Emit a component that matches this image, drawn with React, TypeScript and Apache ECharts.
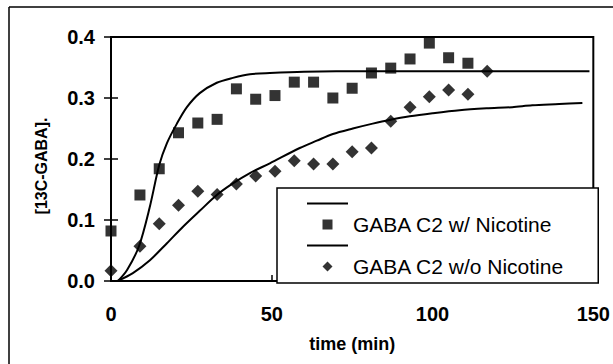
import React, { useEffect, useRef } from "react";
import * as echarts from "echarts";

// Measured points (time in min, [13C-GABA])
const timesWith = [0, 9, 15, 21, 27, 33, 39, 45, 51, 57, 63, 69, 75, 81, 87, 93, 99, 105, 111];
const valuesWith = [0.082, 0.141, 0.184, 0.243, 0.259, 0.265, 0.315, 0.298, 0.304, 0.326, 0.326, 0.3, 0.316, 0.341, 0.349, 0.364, 0.39, 0.366, 0.357];

const timesWithout = [0, 9, 15, 21, 27, 33, 39, 45, 51, 57, 63, 69, 75, 81, 87, 93, 99, 105, 111, 117];
const valuesWithout = [0.017, 0.057, 0.094, 0.124, 0.147, 0.142, 0.159, 0.172, 0.18, 0.197, 0.192, 0.192, 0.212, 0.218, 0.262, 0.285, 0.302, 0.313, 0.306, 0.344];

// Fitted curves
const fitWithT = [2.2, 5, 8.7, 12, 15, 17.4, 20.5, 23.6, 27.6, 32.9, 37.9, 43.2, 49.4, 60, 80, 110, 148.8];
const fitWithY = [0, 0.018, 0.057, 0.12, 0.19, 0.226, 0.258, 0.285, 0.308, 0.325, 0.333, 0.339, 0.341, 0.343, 0.344, 0.344, 0.344];

const fitWithoutT = [2, 6.8, 12.1, 17.4, 22.4, 27.6, 32.9, 37.9, 43.2, 49.4, 58.7, 64, 69, 75.2, 81.4, 86.6, 92.9, 100, 108.4, 116.8, 124.8, 131, 139.4, 146.6];
const fitWithoutY = [0, 0.013, 0.034, 0.062, 0.089, 0.115, 0.141, 0.16, 0.177, 0.193, 0.218, 0.23, 0.241, 0.25, 0.258, 0.264, 0.27, 0.275, 0.28, 0.283, 0.285, 0.288, 0.29, 0.292];

const xTicks = { min: 0, max: 150, interval: 50 };
const yTicks = { min: 0, max: 0.4, interval: 0.1 };

const seriesNames = ["GABA C2 w/ Nicotine", "GABA C2 w/o Nicotine"];
const xTitle = "time (min)";
const yTitle = "[13C-GABA].";

const FONT = "'Liberation Sans', Arial, sans-serif";

const LINE_ICON = "path://M0,0H40V2H0Z";
const SQUARE_ICON = "path://M0,0H1V1H0Z";
const DIAMOND_ICON = "path://M1,0L2,1L1,2L0,1Z";

const zip = (a: number[], b: number[]) => a.map((v, i) => [v, b[i]]);

export default function App() {
  const ref = useRef<HTMLDivElement>(null);
  useEffect(() => {
    if (!ref.current) return;
    const chart = echarts.init(ref.current, undefined, { renderer: "svg" });
    const labelStyle = { fontSize: 20, fontWeight: "bold" as const, color: "#000", fontFamily: FONT };
    const gridPos = { left: 111, top: 37, right: 19, bottom: 83 };
    chart.setOption({
      animation: false,
      backgroundColor: "#fff",
      grid: [
        { ...gridPos, show: true, borderColor: "#000", borderWidth: 2, backgroundColor: "transparent" },
        { ...gridPos, show: false },
      ],
      graphic: [
        { type: "line", shape: { x1: 9, y1: 7, x2: 640, y2: 7 }, style: { stroke: "#000", lineWidth: 1.5 }, silent: true, z: -10 },
        { type: "line", shape: { x1: 9, y1: 7, x2: 9, y2: 400 }, style: { stroke: "#000", lineWidth: 1.5 }, silent: true, z: -10 },
      ],
      xAxis: [
        {
          type: "value",
          gridIndex: 0,
          ...xTicks,
          axisLine: { lineStyle: { color: "#000", width: 2 } },
          axisTick: { inside: true, length: 6, lineStyle: { color: "#000", width: 1.5 } },
          splitLine: { show: false },
          axisLabel: { ...labelStyle, margin: 23 },
          name: xTitle,
          nameLocation: "middle",
          nameGap: 54,
          nameTextStyle: { fontSize: 18, fontWeight: "bold", color: "#000", fontFamily: FONT },
        },
        { type: "value", gridIndex: 1, ...xTicks, show: false },
      ],
      yAxis: [
        {
          type: "value",
          gridIndex: 0,
          ...yTicks,
          position: "left",
          axisLine: { show: true, lineStyle: { color: "#000", width: 2 } },
          axisTick: { show: true, inside: false, length: 7, lineStyle: { color: "#000", width: 1.5 } },
          splitLine: { show: false },
          axisLabel: { ...labelStyle, margin: 16, formatter: (v: number) => v.toFixed(1) },
          name: yTitle,
          nameLocation: "middle",
          nameRotate: 90,
          nameGap: 62,
          nameTextStyle: { fontSize: 16, fontWeight: "bold", color: "#000", fontFamily: FONT, padding: [0, 14, 0, 0] },
        },
        {
          type: "value",
          gridIndex: 1,
          ...yTicks,
          position: "left",
          axisLine: { show: true, lineStyle: { color: "#000", width: 2 } },
          axisTick: { show: true, inside: true, length: 7, lineStyle: { color: "#000", width: 1.5 } },
          axisLabel: { show: false },
          splitLine: { show: false },
        },
      ],
      legend: {
        orient: "vertical",
        left: 277,
        top: 188,
        padding: [5, 34, 6, 30],
        itemGap: 0,
        itemWidth: 41,
        itemHeight: 10,
        symbolKeepAspect: true,
        borderColor: "#000",
        borderWidth: 1.5,
        backgroundColor: "#fff",
        selectedMode: false,
        textStyle: { fontSize: 21, fontFamily: FONT, color: "#000", lineHeight: 19, height: 19 },
        data: [
          { name: " ", icon: LINE_ICON },
          { name: seriesNames[0], icon: SQUARE_ICON },
          { name: "  ", icon: LINE_ICON },
          { name: seriesNames[1], icon: DIAMOND_ICON },
        ],
      },
      series: [
        {
          name: " ",
          type: "line",
          data: zip(fitWithT, fitWithY),
          symbol: "none",
          smooth: 0.3,
          lineStyle: { color: "#000", width: 2 },
          itemStyle: { color: "#000" },
          z: 2,
        },
        {
          name: seriesNames[0],
          type: "scatter",
          data: zip(timesWith, valuesWith),
          symbol: "rect",
          symbolSize: 11,
          itemStyle: { color: "#000" },
          z: 3,
        },
        {
          name: "  ",
          type: "line",
          data: zip(fitWithoutT, fitWithoutY),
          symbol: "none",
          smooth: 0.3,
          lineStyle: { color: "#000", width: 2 },
          itemStyle: { color: "#000" },
          z: 2,
        },
        {
          name: seriesNames[1],
          type: "scatter",
          data: zip(timesWithout, valuesWithout),
          symbol: "diamond",
          symbolSize: 13,
          itemStyle: { color: "#000" },
          z: 3,
        },
      ],
    });
    return () => chart.dispose();
  }, []);
  return <div ref={ref} style={{ position: "fixed", left: 0, top: 0, width: 613, height: 364 }} />;
}
